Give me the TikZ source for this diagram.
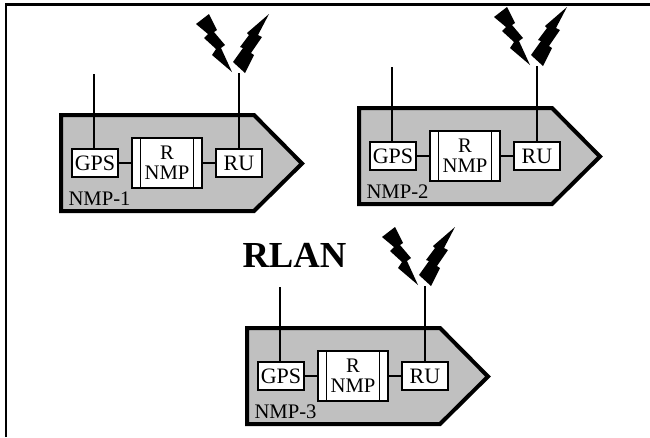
\documentclass[tikz,border=0pt]{standalone}
\usepackage{fontspec}
\setmainfont{Liberation Serif}

\definecolor{bodygray}{RGB}{192,192,192}

\tikzset{every picture/.style={line width=0.75pt}}
\tikzset{
  frameline/.style={line width=1.9pt},
  nmpbody/.style={draw,line width=3pt,fill=bodygray,miter limit=10},
  wire/.style={line width=1.2pt},
  smallbox/.style={draw,fill=white,line width=1.3pt,inner sep=0pt,outer sep=0pt,minimum width=34.5pt,minimum height=20.8pt,font=\fontsize{16.5}{16.5}\selectfont},
  rnmpbox/.style={draw,fill=white,line width=1.3pt,inner sep=0pt,outer sep=0pt,minimum width=52.5pt,minimum height=37.5pt,align=center,font=\fontsize{15.5}{15}\selectfont},
  tag/.style={anchor=base west,inner sep=0pt,font=\fontsize{15.5}{15.5}\selectfont},
  bolts/.pic={
    \fill (-43,-49) -- (-30,-59) -- (-22,-43) -- (-25,-41) -- (-14,-28) -- (-18,-25) -- (-7,-1) -- (-27,-18) -- (-23,-24) -- (-35,-35) -- (-31,-39) -- cycle ;
    \fill (30,-59) -- (19,-38) -- (23,-36) -- (12,-20) -- (15,-18) -- (6,0) -- (-6,-11) -- (4,-25) -- (1,-26) -- (10,-38) -- (8,-40) -- cycle ;
  }
}

\begin{document}
\begin{tikzpicture}[x=0.75pt,y=0.75pt,yscale=-1,xscale=1]

\useasboundingbox (0,0) rectangle (650,437);

\draw [frameline] (6,437) -- (6,4.3) -- (650,4.3) ;

\draw [nmpbody] (61,115) -- (254,115) -- (302,163.5) -- (254,211) -- (61,211) -- cycle ;
\node [smallbox] (gps1) at (95,163) {GPS};
\node [rnmpbox] (rnmp1) at (167,163) {R\\NMP};
\node [smallbox] (ru1) at (239,163) {RU};
\node [tag] (name1) at (68,205) {NMP-1};
\coordinate (gpstop1) at (94,74);
\coordinate (rutop1) at (239,73);
\draw [wire] (gpstop1) -- (gpstop1 |- gps1.north) ;
\draw [wire] (rutop1) -- (ru1.north) ;
\draw [wire] (gps1.east) -- (rnmp1.west) ;
\draw [wire] (rnmp1.east) -- (ru1.west) ;
\draw [wire] ([xshift=6.4pt]rnmp1.north west) -- ([xshift=6.4pt]rnmp1.south west) ;
\draw [wire] ([xshift=-6.4pt]rnmp1.north east) -- ([xshift=-6.4pt]rnmp1.south east) ;
\pic [transform shape] at (rutop1) {bolts};

\draw [nmpbody] (359,108) -- (552,108) -- (600,156.5) -- (552,204) -- (359,204) -- cycle ;
\node [smallbox] (gps2) at (393,156) {GPS};
\node [rnmpbox] (rnmp2) at (465,156) {R\\NMP};
\node [smallbox] (ru2) at (537,156) {RU};
\node [tag] (name2) at (366,198) {NMP-2};
\coordinate (gpstop2) at (392,67);
\coordinate (rutop2) at (537,66);
\draw [wire] (gpstop2) -- (gpstop2 |- gps2.north) ;
\draw [wire] (rutop2) -- (ru2.north) ;
\draw [wire] (gps2.east) -- (rnmp2.west) ;
\draw [wire] (rnmp2.east) -- (ru2.west) ;
\draw [wire] ([xshift=6.4pt]rnmp2.north west) -- ([xshift=6.4pt]rnmp2.south west) ;
\draw [wire] ([xshift=-6.4pt]rnmp2.north east) -- ([xshift=-6.4pt]rnmp2.south east) ;
\pic [transform shape] at (rutop2) {bolts};

\draw [nmpbody] (247,328) -- (440,328) -- (488,376.5) -- (440,424) -- (247,424) -- cycle ;
\node [smallbox] (gps3) at (281,376) {GPS};
\node [rnmpbox] (rnmp3) at (353,376) {R\\NMP};
\node [smallbox] (ru3) at (425,376) {RU};
\node [tag] (name3) at (254,418) {NMP-3};
\coordinate (gpstop3) at (280,287);
\coordinate (rutop3) at (425,286);
\draw [wire] (gpstop3) -- (gpstop3 |- gps3.north) ;
\draw [wire] (rutop3) -- (ru3.north) ;
\draw [wire] (gps3.east) -- (rnmp3.west) ;
\draw [wire] (rnmp3.east) -- (ru3.west) ;
\draw [wire] ([xshift=6.4pt]rnmp3.north west) -- ([xshift=6.4pt]rnmp3.south west) ;
\draw [wire] ([xshift=-6.4pt]rnmp3.north east) -- ([xshift=-6.4pt]rnmp3.south east) ;
\pic [transform shape] at (rutop3) {bolts};

\draw (242,267) node [anchor=base west,inner sep=0pt,font=\fontsize{27.5}{27.5}\selectfont\bfseries] (rlan) {RLAN};

\end{tikzpicture}
\end{document}
